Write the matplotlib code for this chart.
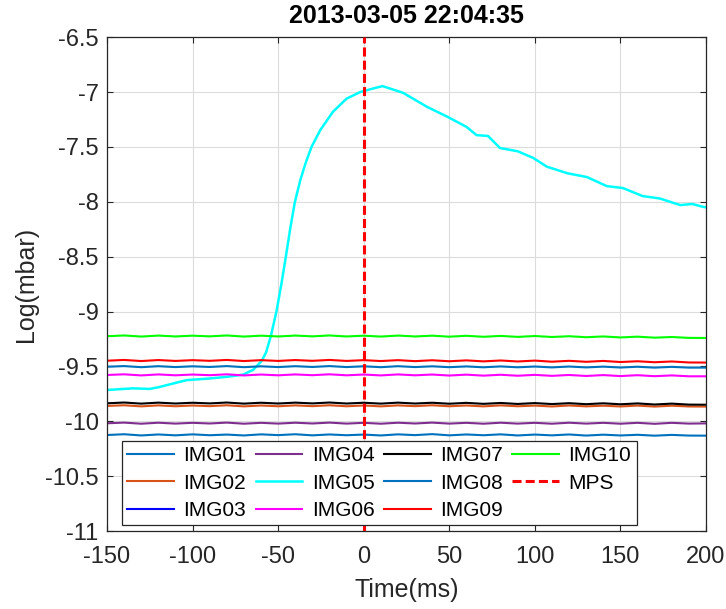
import matplotlib
matplotlib.use("Agg")
import matplotlib.pyplot as plt
from matplotlib.ticker import FormatStrFormatter

plt.rcParams['font.family'] = ['Liberation Sans', 'DejaVu Sans']
plt.rcParams['axes.unicode_minus'] = False
plt.rcParams['lines.scale_dashes'] = False

# time axis of the flat gauges (ms)
t = [-150, -140, -130, -120, -110, -100, -90, -80, -70, -60, -50, -40,
     -30, -20, -10, 0, 10, 20, 30, 40, 50, 60, 70, 80, 90, 100, 110, 120,
     130, 140, 150, 160, 170, 180, 190, 200]

img01 = [-10.125, -10.118, -10.129, -10.120, -10.128, -10.119, -10.127, -10.121,
         -10.129, -10.119, -10.126, -10.118, -10.128, -10.120, -10.127, -10.121,
         -10.129, -10.119, -10.126, -10.117, -10.128, -10.120, -10.127, -10.119,
         -10.129, -10.121, -10.128, -10.120, -10.130, -10.122, -10.129, -10.123,
         -10.131, -10.124, -10.130, -10.131]
img02 = [-9.860, -9.854, -9.864, -9.855, -9.863, -9.856, -9.862, -9.854,
         -9.864, -9.856, -9.863, -9.855, -9.862, -9.854, -9.863, -9.856,
         -9.864, -9.855, -9.862, -9.854, -9.863, -9.856, -9.864, -9.855,
         -9.863, -9.857, -9.865, -9.856, -9.864, -9.858, -9.865, -9.857,
         -9.866, -9.858, -9.865, -9.866]
img03 = []  # not visible in the chart, only in the legend
img04 = [-10.018, -10.012, -10.022, -10.013, -10.021, -10.014, -10.020, -10.012,
         -10.022, -10.014, -10.021, -10.013, -10.020, -10.012, -10.021, -10.014,
         -10.022, -10.013, -10.020, -10.012, -10.021, -10.014, -10.022, -10.013,
         -10.021, -10.014, -10.022, -10.013, -10.021, -10.014, -10.022, -10.014,
         -10.023, -10.014, -10.021, -10.019]
img06 = [-9.578, -9.572, -9.582, -9.573, -9.581, -9.574, -9.580, -9.572,
         -9.582, -9.574, -9.581, -9.573, -9.580, -9.572, -9.581, -9.574,
         -9.582, -9.573, -9.581, -9.574, -9.583, -9.575, -9.584, -9.576,
         -9.585, -9.577, -9.586, -9.578, -9.587, -9.579, -9.588, -9.580,
         -9.589, -9.582, -9.590, -9.590]
img07 = [-9.836, -9.829, -9.839, -9.830, -9.838, -9.831, -9.837, -9.829,
         -9.839, -9.831, -9.838, -9.830, -9.837, -9.829, -9.838, -9.831,
         -9.839, -9.830, -9.838, -9.831, -9.840, -9.832, -9.841, -9.833,
         -9.842, -9.834, -9.843, -9.835, -9.844, -9.836, -9.845, -9.837,
         -9.847, -9.839, -9.848, -9.849]
img08 = [-9.503, -9.497, -9.507, -9.498, -9.506, -9.499, -9.505, -9.497,
         -9.507, -9.499, -9.506, -9.498, -9.505, -9.497, -9.506, -9.499,
         -9.507, -9.498, -9.506, -9.499, -9.507, -9.500, -9.508, -9.500,
         -9.508, -9.501, -9.509, -9.501, -9.509, -9.502, -9.510, -9.503,
         -9.511, -9.504, -9.511, -9.511]
img09 = [-9.448, -9.441, -9.451, -9.442, -9.450, -9.443, -9.449, -9.441,
         -9.451, -9.443, -9.450, -9.442, -9.449, -9.441, -9.450, -9.443,
         -9.451, -9.443, -9.452, -9.444, -9.453, -9.445, -9.454, -9.446,
         -9.455, -9.447, -9.457, -9.449, -9.458, -9.450, -9.460, -9.453,
         -9.462, -9.455, -9.464, -9.465]
img10 = [-9.225, -9.218, -9.228, -9.219, -9.227, -9.220, -9.226, -9.218,
         -9.228, -9.220, -9.227, -9.219, -9.226, -9.218, -9.227, -9.220,
         -9.228, -9.219, -9.227, -9.220, -9.229, -9.221, -9.230, -9.222,
         -9.231, -9.223, -9.232, -9.225, -9.234, -9.227, -9.236, -9.229,
         -9.238, -9.232, -9.240, -9.241]

# IMG05 rises through the event
t05 = [-150, -135, -125, -120, -115, -103.5, -90, -80, -70.5, -64.5, -59.6,
       -57, -54.2, -51, -48, -45.5, -43, -40.2, -37, -34, -30.5, -25.5, -18,
       -10, -2, 5, 11, 23, 37, 49, 60, 66, 72.6, 79.6, 90, 99, 107, 119,
       130.5, 142, 151.5, 163, 173, 185, 192, 198, 200]
img05 = [-9.715, -9.70, -9.705, -9.69, -9.67, -9.625, -9.61, -9.595, -9.575,
         -9.53, -9.45, -9.37, -9.22, -9.0, -8.74, -8.5, -8.25, -8.0, -7.8,
         -7.65, -7.5, -7.35, -7.18, -7.06, -7.0, -6.97, -6.946, -7.007,
         -7.135, -7.226, -7.317, -7.393, -7.40, -7.51, -7.54, -7.60, -7.68,
         -7.74, -7.775, -7.857, -7.875, -7.948, -7.97, -8.03, -8.02, -8.045,
         -8.05]

mps_time = 0

fig = plt.figure(figsize=(7.26, 6.09), dpi=100)
ax = fig.add_axes([0.1474, 0.128, 0.825, 0.811])

ax.plot(t, img01, color='#0072BD', lw=1.5, label='IMG01')
ax.plot(t, img02, color='#D95319', lw=1.5, label='IMG02')
ax.plot(img03, img03, color='#0000FF', lw=1.5, label='IMG03')
ax.plot(t, img04, color='#7E2F8E', lw=1.5, label='IMG04')
ax.plot(t05, img05, color='#00FFFF', lw=1.8, label='IMG05')
ax.plot(t, img06, color='#FF00FF', lw=1.5, label='IMG06')
ax.plot(t, img07, color='#000000', lw=1.5, label='IMG07')
ax.plot(t, img08, color='#0072BD', lw=1.5, label='IMG08')
ax.plot(t, img09, color='#FF0000', lw=1.5, label='IMG09')
ax.plot(t, img10, color='#00FF00', lw=1.5, label='IMG10')
ax.axvline(mps_time, color='#FF0000', lw=2.2, dashes=(6.5, 3), label='MPS',
           zorder=5)

ax.set_xlim(-150, 200)
ax.set_ylim(-11, -6.5)
ax.set_xticks(range(-150, 201, 50))
ax.set_yticks([-11 + 0.5 * i for i in range(10)])
ax.yaxis.set_major_formatter(FormatStrFormatter('%g'))
ax.grid(True, color='#dcdcdc', lw=0.8)
ax.set_axisbelow(True)
ax.tick_params(direction='in', length=4, width=0.8, labelsize=17,
               colors='#262626', top=True, right=True)
ax.tick_params(axis='x', pad=11)
ax.tick_params(axis='y', pad=6)
for s in ax.spines.values():
    s.set_color('#262626')
    s.set_linewidth(0.9)

ax.set_title('2013-03-05 22:04:35', fontsize=18, fontweight='bold', pad=10)
ax.set_xlabel('Time(ms)', fontsize=18, color='#262626', labelpad=7)
ax.set_ylabel('Log(mbar)', fontsize=18, color='#262626', labelpad=5)

leg = ax.legend(ncol=4, loc='lower left', bbox_to_anchor=(0.025, 0.012),
                borderaxespad=0, fontsize=15, fancybox=False, framealpha=1,
                edgecolor='#262626', handlelength=2.25, handletextpad=0.45,
                columnspacing=0.45, labelspacing=0.4, borderpad=0.25)
leg.get_frame().set_linewidth(0.9)
leg.set_zorder(10)

fig.savefig('out.png', dpi=100)
